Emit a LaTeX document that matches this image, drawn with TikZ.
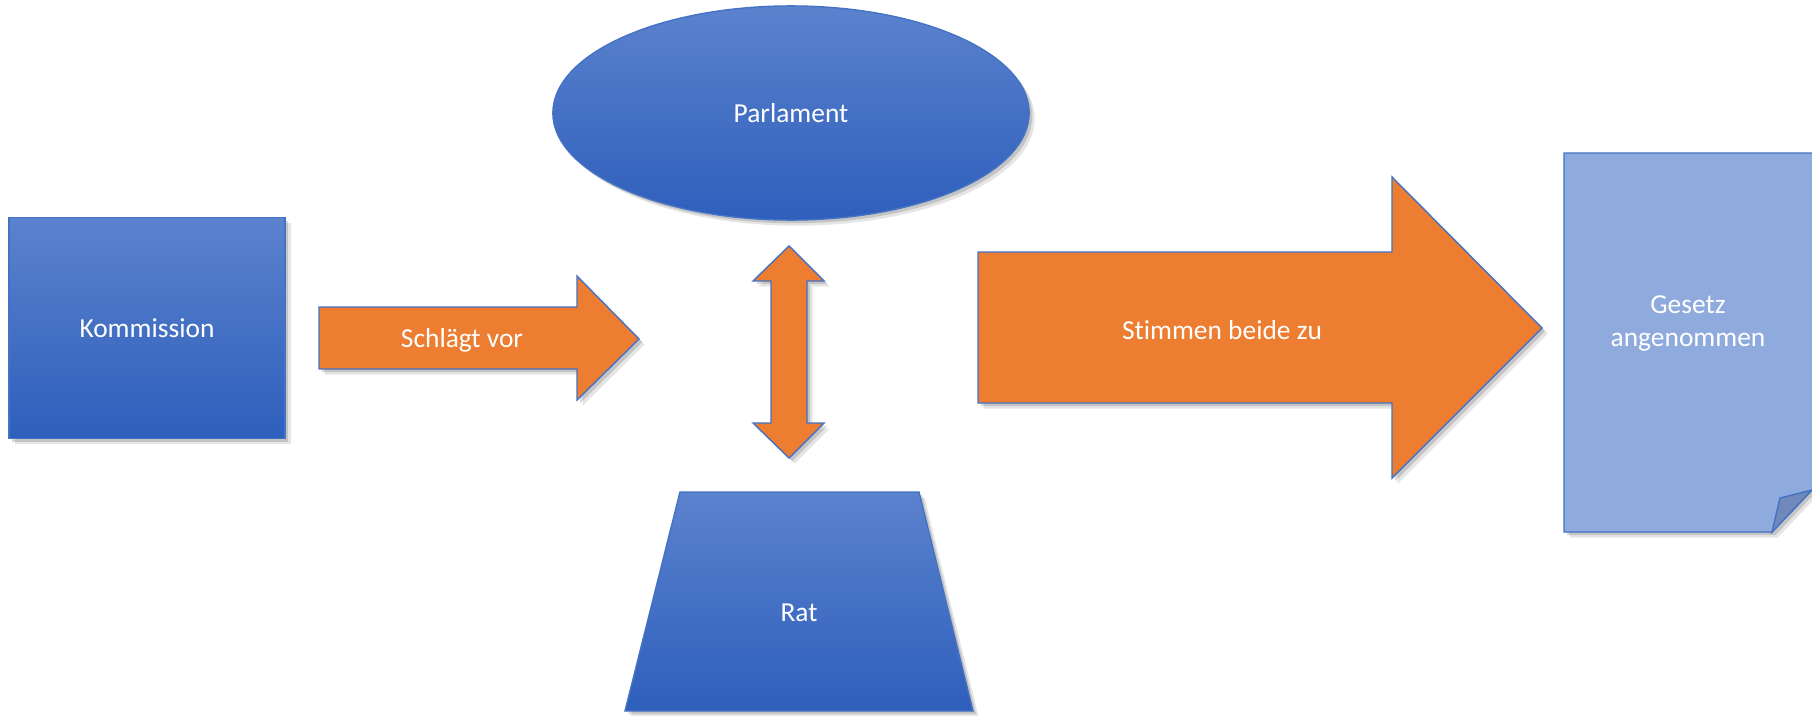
\documentclass[tikz,border=0pt]{standalone}
\usepackage{fontspec}
\setmainfont{Carlito}[Ligatures={NoCommon,NoRare,NoContextual}]
\usetikzlibrary{shapes.geometric}
\definecolor{btop}{HTML}{5B82CD}
\definecolor{bbot}{HTML}{2E5FBC}
\definecolor{bline}{HTML}{4472C4}
\definecolor{orng}{HTML}{ED7D31}
\definecolor{docfill}{HTML}{8FAADC}
\definecolor{foldfill}{HTML}{7189BA}
\begin{document}
\begin{tikzpicture}[x=0.01cm,y=-0.01cm,
  font=\fontsize{7.8}{9.4}\selectfont,
  softshadow/.style={preaction={fill=black,opacity=0.10,transform canvas={shift={(1.6pt,-1.6pt)}}},
                     preaction={fill=black,opacity=0.14,transform canvas={shift={(0.9pt,-0.9pt)}}}},
  bluebox/.style={softshadow,draw=bline,line width=0.4pt,top color=btop,bottom color=bbot,text=white,inner sep=0pt},
  orangebox/.style={softshadow,draw=bline,line width=0.4pt,fill=orng},
  docbox/.style={softshadow,draw=bline,line width=0.4pt,fill=docfill},
  lbl/.style={text=white,align=center,inner sep=0pt}]
\useasboundingbox (0,0) rectangle (1812,715);
\fill[white] (0,0) rectangle (1812,715);

% Kommission
\node[bluebox,rectangle,minimum width=2.76cm,minimum height=2.21cm] (kom) at (147,328) {Kommission};

% Parlament
\node[bluebox,ellipse,minimum width=4.76cm,minimum height=2.14cm] (parl) at (791,113) {Parlament};

% Rat
\draw[bluebox] (680,492) -- (919,492) -- (973,711) -- (625,711) -- cycle;
\node[lbl] (rat) at (799,613) {Rat};

% Schlaegt vor arrow
\draw[orangebox] (319,307) -- (577,307) -- (577,276) -- (639,339) -- (577,400) -- (577,369) -- (319,369) -- cycle;
\node[lbl] (vor) at (462,340) {Schlägt vor};

% double arrow
\draw[orangebox] (789,246) -- (824,281) -- (807,281) -- (807,423) -- (824,423) -- (789,458)
  -- (753,423) -- (771,423) -- (771,281) -- (753,281) -- cycle;

% big arrow
\draw[orangebox] (978,252) -- (1392,252) -- (1392,177) -- (1542,328) -- (1392,478) -- (1392,403) -- (978,403) -- cycle;
\node[lbl] (zu) at (1222,330) {Stimmen beide zu};

% document
\draw[docbox] (1564,153) -- (1816,153) -- (1816,488) -- (1812,490) -- (1772,532) -- (1564,532) -- cycle;
\draw[draw=bline,line width=0.4pt,fill=foldfill] (1772,532) -- (1780,498) -- (1812,490) -- cycle;
\node[lbl] (gesetz) at (1688,323) {Gesetz\\angenommen};
\end{tikzpicture}
\end{document}
